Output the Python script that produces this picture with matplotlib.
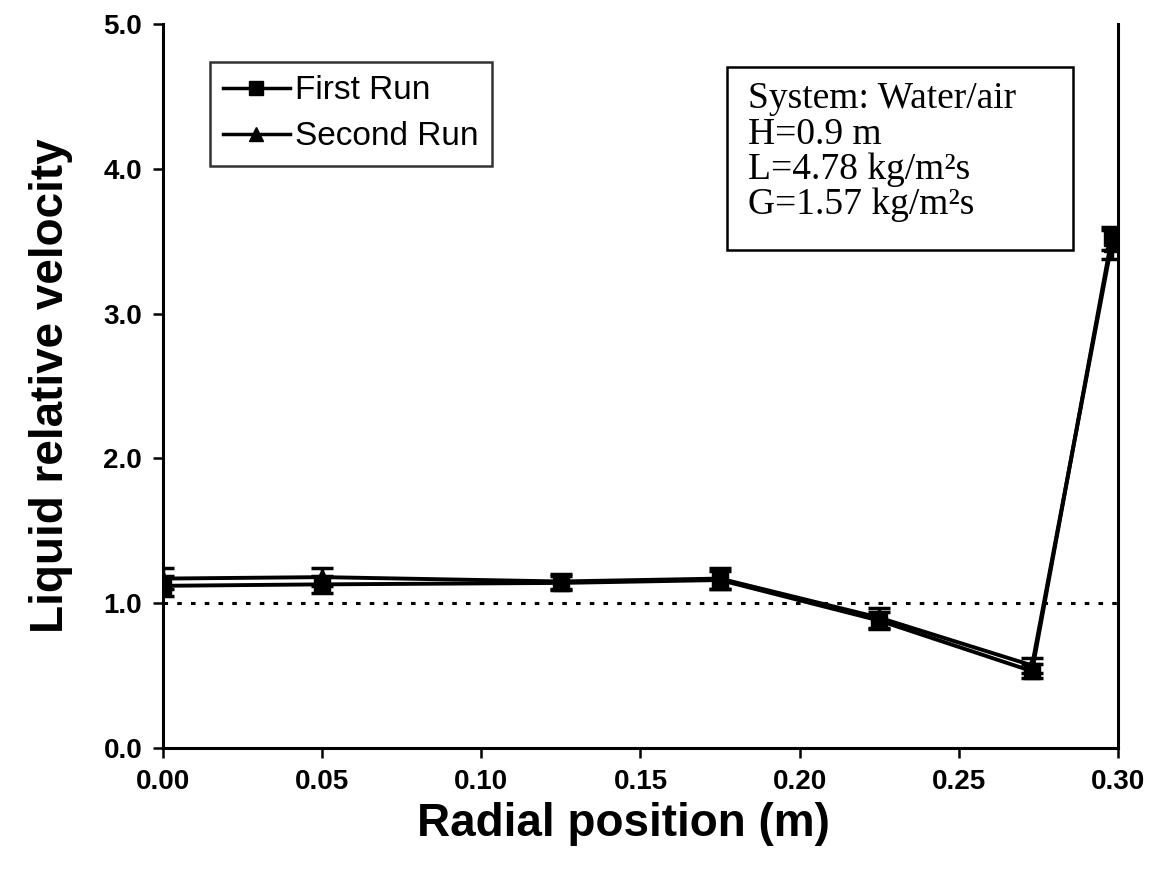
import numpy as np
import matplotlib.pyplot as plt
from matplotlib.lines import Line2D
from matplotlib.patches import Rectangle

# radial positions (m)
radial_pos = [0.0, 0.05, 0.125, 0.175, 0.225, 0.273, 0.298]

# liquid relative velocity, two runs
first_run = [1.12, 1.13, 1.14, 1.16, 0.88, 0.53, 3.52]
first_err = [0.07, 0.06, 0.05, 0.06, 0.06, 0.05, 0.08]
second_run = [1.17, 1.18, 1.15, 1.17, 0.90, 0.57, 3.48]
second_err = [0.07, 0.06, 0.05, 0.07, 0.07, 0.05, 0.10]

legends = ["First Run", "Second Run"]
info_lines = ["System: Water/air",
              "H=0.9 m",
              "L=4.78 kg/m\u00b2s",
              "G=1.57 kg/m\u00b2s"]

plt.rcParams['font.family'] = ['Liberation Sans', 'DejaVu Sans']

fig = plt.figure(figsize=(11.6, 8.73), dpi=100)
ax = fig.add_axes([0.1405, 0.1432, 0.8233, 0.8293])

ax.errorbar(radial_pos, first_run, yerr=first_err, color='k', linewidth=2.8,
            marker='s', markersize=11, capsize=8, capthick=2.5, elinewidth=2.5)
ax.errorbar(radial_pos, second_run, yerr=second_err, color='k', linewidth=2.8,
            marker='^', markersize=11, capsize=8, capthick=2.5, elinewidth=2.5)

# reference level
ax.plot([0.0, 0.30], [1.0, 1.0], color='k', linestyle=(0, (1.5, 3)), linewidth=2.2)

ax.set_xlim(0.0, 0.30)
ax.set_ylim(0.0, 5.0)
xt = np.arange(0, 0.301, 0.05)
yt = np.arange(0, 5.01, 1.0)
ax.set_xticks(xt)
ax.set_xticklabels(["%.2f" % v for v in xt], fontweight='bold')
ax.set_yticks(yt)
ax.set_yticklabels(["%.1f" % v for v in yt], fontweight='bold')
ax.tick_params(direction='out', length=7, width=1.8, labelsize=20, pad=8)

ax.spines['top'].set_visible(False)
for s in ['left', 'bottom', 'right']:
    ax.spines[s].set_linewidth(2.2)

ax.set_xlabel('Radial position (m)', fontsize=33, fontweight='bold')
ax.xaxis.set_label_coords(0.482, -0.075)
ax.set_ylabel('Liquid relative velocity', fontsize=33, fontweight='bold', labelpad=22)

handles = [Line2D([], [], color='k', linewidth=2.5, marker='s', markersize=10),
           Line2D([], [], color='k', linewidth=2.5, marker='^', markersize=10)]
leg = ax.legend(handles, legends, loc='upper left', bbox_to_anchor=(0.049, 0.9475),
                borderaxespad=0, fontsize=24, frameon=True, fancybox=False,
                edgecolor='k', handlelength=2.0, handletextpad=0.15,
                borderpad=0.4, labelspacing=0.45)
leg.get_frame().set_linewidth(1.8)

# conditions box
ax.add_patch(Rectangle((0.5906, 0.6878), 0.3623, 0.2528, transform=ax.transAxes,
                       facecolor='white', edgecolor='k', linewidth=1.8, zorder=5))
for i, line in enumerate(info_lines):
    ax.text(0.6126, 0.92 - i * 0.0485, line, transform=ax.transAxes,
            fontsize=27, family='Liberation Serif', va='top', ha='left', zorder=6)

plt.savefig('out.png', dpi=100)
